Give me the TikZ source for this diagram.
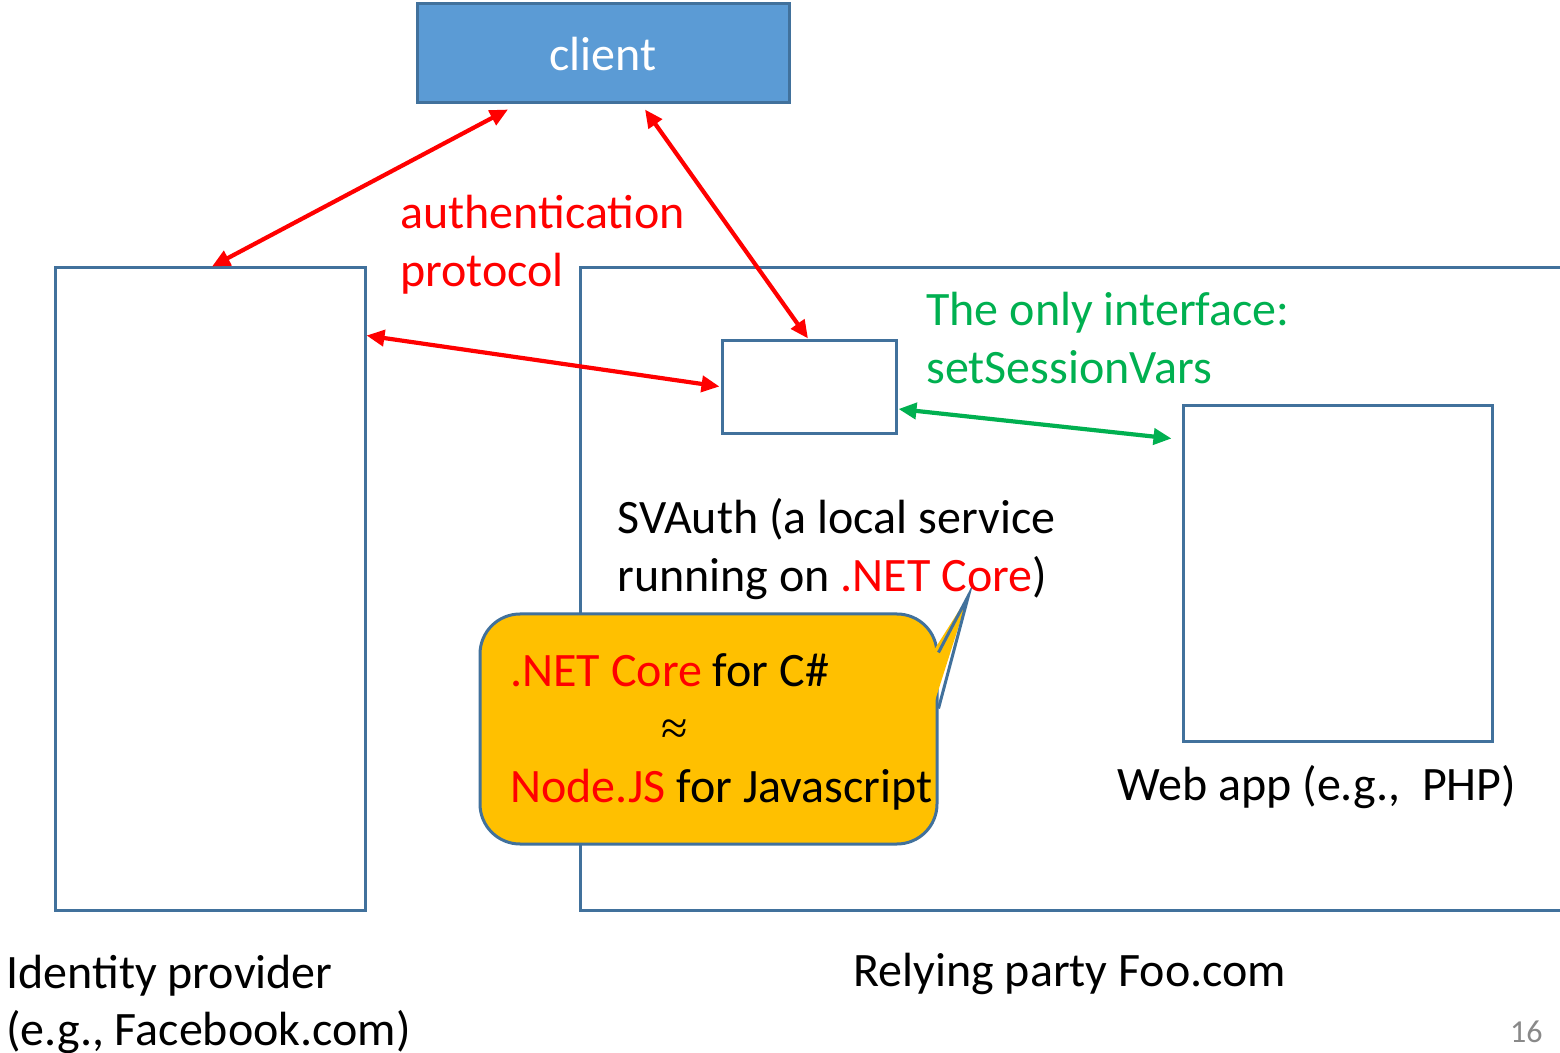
\documentclass[tikz,border=0pt]{standalone}
\usepackage{fontspec}
\setmainfont{Carlito}
\newfontfamily\approxfont{Liberation Serif}
\usetikzlibrary{arrows.meta}
\definecolor{boxblue}{HTML}{41719C}
\definecolor{clientfill}{HTML}{5B9BD5}
\definecolor{calloutfill}{HTML}{FFC000}
\definecolor{ifacegreen}{HTML}{00B050}
\definecolor{slidered}{HTML}{FF0000}
\definecolor{numgray}{HTML}{898989}
\begin{document}
\begin{tikzpicture}[x=0.5pt,y=-0.5pt,
  frame/.style={draw=boxblue, line width=1.5pt, inner sep=0pt},
  lbl/.style={anchor=base west, inner sep=0pt, font=\fontsize{24}{29}\selectfont},
  tip/.tip={Triangle[length=9pt,width=8pt]},
  redlink/.style={draw=slidered, line width=2.1pt, tip-tip},
  greenlink/.style={draw=ifacegreen, line width=2.1pt, tip-tip}]

\clip (0,0) rectangle (1560,1053);
\fill[white] (0,0) rectangle (1560,1053);

% boxes
\node[frame, fill=clientfill, minimum width=186pt, minimum height=49.5pt] (client) at (603,53.5) {};
\node[anchor=base, inner sep=0pt, text=white, font=\fontsize{24}{29}\selectfont] (clienttext) at (603,71) {client};
\node[frame, minimum width=155pt, minimum height=321pt] (idp) at (210,589) {};
\node[frame, minimum width=530pt, minimum height=321pt, anchor=west] (rp) at (579,589) {};
\node[frame, minimum width=87pt, minimum height=46.5pt] (svauth) at (809,387.5) {};
\node[frame, minimum width=154.5pt, minimum height=168pt] (webapp) at (1337.5,574) {};

% speech bubble
\node[frame, fill=calloutfill, rounded corners=20pt, minimum width=228.5pt, minimum height=115pt] (callout) at (708.5,729) {};
\coordinate (ptA) at ([shift={(0,40)}]callout.north east);
\coordinate (ptB) at ([shift={(30,-17)}]callout.north east);
\coordinate (ptC) at ([shift={(0,96)}]callout.north east);
\fill[calloutfill] ([shift={(-6,0)}]ptA) -- (ptB) -- ([shift={(-6,0)}]ptC) -- cycle;
\draw[draw=boxblue, line width=1.5pt, line join=miter] (ptA) -- (ptB) -- (ptC);

% labels
\node[lbl, text=slidered] (auth1) at (400,229) {authentication};
\node[lbl, text=slidered] (auth2) at (400,287) {protocol};
\node[lbl, text=ifacegreen] (if1) at (926,326) {The only interface:};
\node[lbl, text=ifacegreen] (if2) at (926,384) {setSessionVars};
\node[lbl] (sv1) at (617,534) {SVAuth (a local service};
\node[lbl] (sv2) at (617,592) {running on \textcolor{slidered}{.NET Core})};
\node[lbl] (co1) at (510,687) {\textcolor{slidered}{.NET Core} for C\#};
\node[anchor=base, inner sep=0pt, font=\fontsize{24}{29}\approxfont] (co2) at (675,745) {≈};
\node[lbl] (co3) at (510,802) {\textcolor{slidered}{Node.JS} for Javascript};
\node[lbl] (wa) at (1117,800) {Web app (e.g.,\ \ PHP)};
\node[lbl] (idp1) at (6,988) {Identity provider};
\node[lbl] (idp2) at (6,1045) {(e.g., Facebook.com)};
\node[lbl] (rplbl) at (853,986) {Relying party Foo.com};
\node[anchor=base east, inner sep=0pt, text=numgray, font=\fontsize{16}{19}\selectfont] (pagenum) at (1543,1042) {16};

% connectors
\draw[redlink] ([shift={(-95,5)}]client.south) -- ([shift={(2,0)}]idp.north);
\draw[redlink] ([shift={(42,5)}]client.south) -- ([shift={(-1,-1)}]svauth.north);
\draw[redlink] ([shift={(0,69)}]idp.north east) -- ([shift={(-1,-1)}]svauth.west);
\draw[greenlink] ([shift={(1,21.5)}]svauth.east) -- ([shift={(-10,34)}]webapp.north west);
\end{tikzpicture}
\end{document}
